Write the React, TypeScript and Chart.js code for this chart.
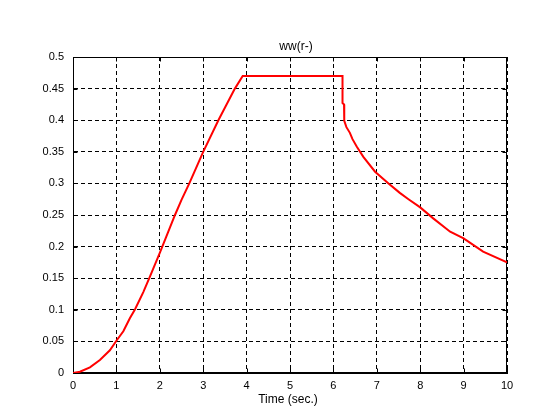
import React, { useEffect, useRef } from "react";
import { Chart, registerables } from "chart.js";

Chart.register(...registerables);

const timeSec = [
  0, 0.16, 0.39, 0.62, 0.85, 1.0, 1.16, 1.31, 1.43, 1.62, 1.77, 2.0, 2.35, 2.5, 2.68, 3.0, 3.35, 3.73, 3.91,
  6.21, 6.21, 6.245, 6.25, 6.3, 6.38, 6.44, 6.54, 6.69, 6.96, 7.27, 7.53, 7.73, 8.0, 8.3, 8.69, 9.0, 9.45, 10.0,
];
const wwValues = [
  0, 0.002, 0.009, 0.0205, 0.036, 0.051, 0.066, 0.0865, 0.101, 0.128, 0.152, 0.19, 0.25, 0.274, 0.3, 0.35, 0.4, 0.45, 0.47,
  0.47, 0.427, 0.425, 0.399, 0.389, 0.38, 0.37, 0.358, 0.342, 0.3185, 0.3, 0.285, 0.275, 0.262, 0.2447, 0.2236, 0.213, 0.192, 0.175,
];
const xTickValues = [0, 1, 2, 3, 4, 5, 6, 7, 8, 9, 10];
const xTickLabels = ["0", "1", "2", "3", "4", "5", "6", "7", "8", "9", "10"];
const yTickValues = [0, 0.05, 0.1, 0.15, 0.2, 0.25, 0.3, 0.35, 0.4, 0.45, 0.5];
const yTickLabels = ["0", "0.05", "0.1", "0.15", "0.2", "0.25", "0.3", "0.35", "0.4", "0.45", "0.5"];
const chartTitle = "ww(r-)";
const xAxisTitle = "Time (sec.)";

const FONT = "'Liberation Sans', Arial, sans-serif";

const framePlugin = {
  id: "matlabFrame",
  beforeDatasetsDraw(chart: any) {
    const { ctx, chartArea } = chart;
    const l = Math.round(chartArea.left) + 0.5;
    const r = Math.round(chartArea.right) - 0.5;
    const t = Math.round(chartArea.top) + 0.5;
    const b = Math.round(chartArea.bottom) - 0.5;
    ctx.save();
    ctx.strokeStyle = "#000";
    ctx.lineWidth = 1;
    ctx.setLineDash([]);
    ctx.strokeRect(l, t, r - l, b - t);
    const xs = chart.scales.x;
    const ys = chart.scales.y;
    const tl = 4;
    ctx.beginPath();
    xTickValues.forEach((v) => {
      const px = Math.round(xs.getPixelForValue(v)) + 0.5;
      ctx.moveTo(px, b);
      ctx.lineTo(px, b - tl);
      ctx.moveTo(px, t);
      ctx.lineTo(px, t + tl);
    });
    yTickValues.forEach((v) => {
      const py = Math.round(ys.getPixelForValue(v)) + 0.5;
      ctx.moveTo(l, py);
      ctx.lineTo(l + tl, py);
      ctx.moveTo(r, py);
      ctx.lineTo(r - tl, py);
    });
    ctx.stroke();
    ctx.restore();
  },
  afterDraw(chart: any) {
    const { ctx } = chart;
    ctx.save();
    ctx.fillStyle = "#000";
    ctx.font = `12px ${FONT}`;
    ctx.textAlign = "center";
    ctx.textBaseline = "middle";
    ctx.fillText(chartTitle, 296, 47);
    ctx.fillText(xAxisTitle, 288, 400);
    ctx.restore();
  },
};

export default function App() {
  const ref = useRef<HTMLCanvasElement | null>(null);
  useEffect(() => {
    document.body.style.margin = "0";
    const canvas = ref.current!;
    const data = timeSec.map((t, i) => ({ x: t, y: wwValues[i] }));
    const chart = new Chart(canvas, {
      type: "line",
      data: {
        datasets: [
          {
            data,
            borderColor: "#ff0000",
            borderWidth: 2,
            pointRadius: 0,
            tension: 0,
            fill: false,
          },
        ],
      },
      options: {
        animation: false,
        responsive: false,
        devicePixelRatio: 1,
        layout: { padding: { left: 0, top: 57, right: 53, bottom: 0 } },
        plugins: { legend: { display: false }, tooltip: { enabled: false }, title: { display: false } },
        scales: {
          x: {
            type: "linear",
            min: 0,
            max: 10,
            afterBuildTicks: (s: any) => {
              s.ticks = xTickValues.map((v) => ({ value: v }));
            },
            afterFit: (s: any) => {
              s.height = 47;
            },
            ticks: {
              color: "#000",
              font: { family: FONT, size: 11 },
              padding: 6,
              maxRotation: 0,
              autoSkip: false,
              callback: (v: any) => {
                const i = xTickValues.indexOf(Number(v));
                return i >= 0 ? xTickLabels[i] : "";
              },
            },
            grid: { color: "#000", lineWidth: 1, drawTicks: false },
            border: { display: true, color: "#000", dash: [4, 3] },
          },
          y: {
            type: "linear",
            min: 0,
            max: 0.5,
            afterBuildTicks: (s: any) => {
              s.ticks = yTickValues.map((v) => ({ value: v }));
            },
            afterFit: (s: any) => {
              s.width = 73;
            },
            ticks: {
              color: "#000",
              font: { family: FONT, size: 11 },
              padding: 9,
              autoSkip: false,
              callback: (v: any) => {
                const i = yTickValues.findIndex((y) => Math.abs(y - Number(v)) < 1e-9);
                return i >= 0 ? yTickLabels[i] : "";
              },
            },
            grid: { color: "#000", lineWidth: 1, drawTicks: false },
            border: { display: true, color: "#000", dash: [4, 3] },
          },
        },
      },
      plugins: [framePlugin],
    } as any);
    return () => chart.destroy();
  }, []);
  return (
    <div style={{ position: "absolute", left: 0, top: 0, width: 560, height: 420, background: "#fff" }}>
      <canvas ref={ref} width={560} height={420} style={{ display: "block", width: 560, height: 420 }} />
    </div>
  );
}
